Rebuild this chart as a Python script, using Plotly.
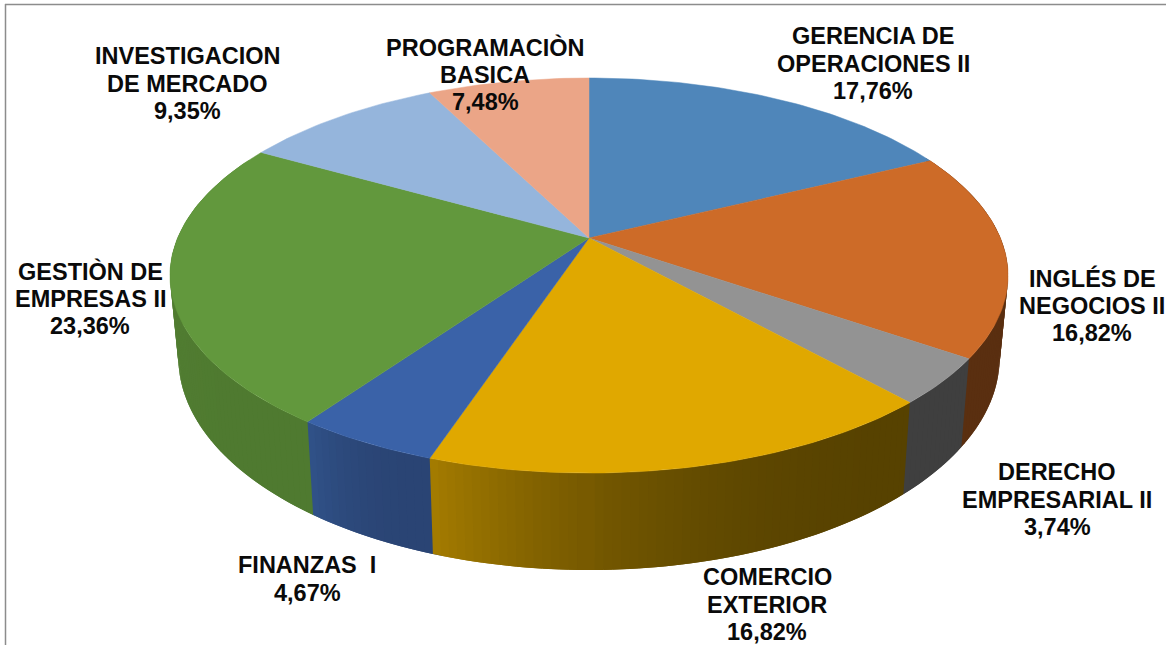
"""Tilted 3D pie drawn with filled scatter traces, wedges computed from the shares."""
import math

import plotly.graph_objects as go

# ── data ──────────────────────────────────────────────────────────────────────
NAMES = [
    ["GERENCIA DE", "OPERACIONES II"],
    ["INGLÉS DE", "NEGOCIOS II"],
    ["DERECHO", "EMPRESARIAL II"],
    ["COMERCIO", "EXTERIOR"],
    ["FINANZAS  I"],
    ["GESTIÒN DE", "EMPRESAS II"],
    ["INVESTIGACION", "DE MERCADO"],
    ["PROGRAMACIÒN", "BASICA"],
]
SHARES = [17.76, 16.82, 3.74, 16.82, 4.67, 23.36, 9.35, 7.48]

TOP_COLORS = ["#4f86ba", "#cd6b28", "#939393", "#e0a800",
              "#3a62a8", "#62983d", "#95b5dc", "#eba587"]
# side wall shading: colour at slice start (clockwise) and at slice end
SIDE_START = ["#2b4a6a", "#5a2f10", "#3f3f3f", "#574200",
              "#2a4474", "#4f7a30", "#5a7a9c", "#8f6a55"]
SIDE_END = ["#5a2f10", "#5a2f10", "#3f3f3f", "#a57c00",
            "#305289", "#5c8f3a", "#5a7a9c", "#8f6a55"]

# ── style / projection ────────────────────────────────────────────────────────
W, H = 1166, 645
CX, CY = 589, 238        # apex of the pie on the page
RX, RY = 411.4, 190.4    # projected radius before perspective
PERSP = 0.19             # far edge shrinks, near edge grows
WALL_SCALE = 0.98        # lower rim is a little narrower
WALL_A, WALL_B = 61, 1.076
SHADE_GAMMA = 2.5        # wall shading stays dark longer, then lifts
FONT = "Liberation Sans"
FONT_SIZE = 23.5
LINE_GAP = 27.5
FRAME = "#8c8c8c"

# centre of the first text line, per slice
LABEL_POS = [(873, 36), (1092, 278), (1057, 472), (767, 577),
             (307, 565), (90, 271), (187, 56), (485, 47)]


def top_rim(theta):
    s, c = math.sin(theta), math.cos(theta)
    w = 1 + PERSP * c
    return CX + RX * s / w, CY - RY * c / w


def low_rim(theta):
    x, y = top_rim(theta)
    return CX + WALL_SCALE * (x - CX), WALL_A + WALL_B * y


def mix(c1, c2, t):
    a = [int(c1[i:i + 2], 16) for i in (1, 3, 5)]
    b = [int(c2[i:i + 2], 16) for i in (1, 3, 5)]
    return "#" + "".join(f"{round(p + (q - p) * t):02x}" for p, q in zip(a, b))


# slice limits, clockwise from twelve o'clock
total = sum(SHARES)
bounds = [0.0]
for v in SHARES:
    bounds.append(bounds[-1] + v / total * 2 * math.pi)

fig = go.Figure()


def add_poly(xs, ys, color, stroke=0.0):
    fig.add_trace(go.Scatter(
        x=xs, y=ys, mode="lines", fill="toself", fillcolor=color,
        line=dict(color=color, width=stroke), hoverinfo="skip", showlegend=False,
    ))


# side wall strips, far ones first; each runs under its nearer neighbour to hide seams
strips = []
for i in range(len(SHARES)):
    a0, a1 = bounds[i], bounds[i + 1]
    n = max(2, int(math.degrees(a1 - a0)))
    step = (a1 - a0) / n
    for k in range(n):
        t0 = a0 + step * k
        t1 = t0 + step
        if math.cos((t0 + t1) / 2) < 0.45:
            if t0 < math.pi:
                t1 += step
            else:
                t0 -= step
            shade = ((k + 0.5) / n) ** SHADE_GAMMA
            strips.append((t0, t1, mix(SIDE_START[i], SIDE_END[i], shade)))
strips.sort(key=lambda s: -math.cos((s[0] + s[1]) / 2))
for t0, t1, color in strips:
    p = [top_rim(t0), top_rim(t1), low_rim(t1), low_rim(t0), top_rim(t0)]
    add_poly([q[0] for q in p], [q[1] for q in p], color)

# top face wedges
for i in range(len(SHARES)):
    a0, a1 = bounds[i], bounds[i + 1]
    n = max(8, int(math.degrees(a1 - a0)))
    rim = [top_rim(a0 + (a1 - a0) * k / n) for k in range(n + 1)]
    xs = [CX] + [q[0] for q in rim] + [CX]
    ys = [CY] + [q[1] for q in rim] + [CY]
    add_poly(xs, ys, TOP_COLORS[i], stroke=0.5)

# labels, one annotation per text line to hold the tight leading
annotations = []
for name, share, (lx, ly) in zip(NAMES, SHARES, LABEL_POS):
    lines = name + [f"{share:.2f}%".replace(".", ",")]
    for j, line in enumerate(lines):
        annotations.append(dict(
            x=lx, y=ly + j * LINE_GAP, text=f"<b>{line}</b>", showarrow=False,
            xanchor="center", yanchor="middle",
            font=dict(family=FONT, size=FONT_SIZE, color="#0a0a0a"),
        ))

fig.update_layout(
    width=W, height=H, autosize=False,
    margin=dict(l=0, r=0, t=0, b=0),
    paper_bgcolor="#ffffff", plot_bgcolor="#ffffff",
    showlegend=False,
    xaxis=dict(range=[0, W], visible=False, fixedrange=True),
    yaxis=dict(range=[H, 0], visible=False, fixedrange=True),
    annotations=annotations,
    shapes=[
        dict(type="line", x0=5, x1=W, y0=4.5, y1=4.5, line=dict(color=FRAME, width=1.5)),
        dict(type="line", x0=5.5, x1=5.5, y0=4, y1=H, line=dict(color=FRAME, width=1.5)),
    ],
)

# the page's default body margin would push the chart 8px in
fig.write_html(
    "out.html",
    config={"displayModeBar": False},
    post_script="document.body.style.margin='0';",
)
